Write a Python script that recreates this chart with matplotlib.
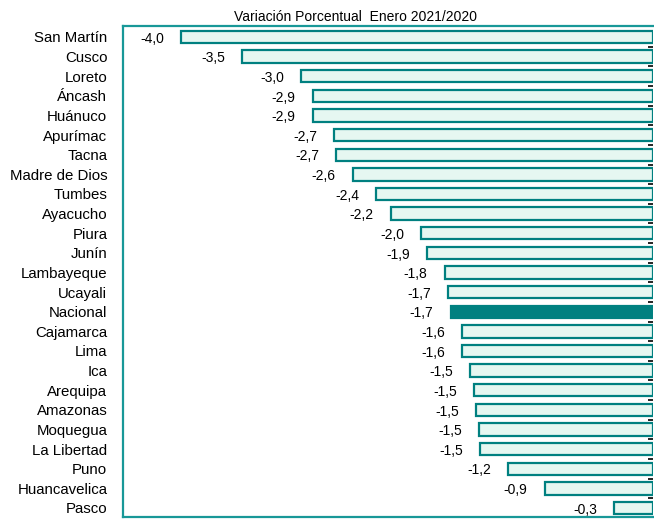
import matplotlib
matplotlib.use("Agg")
import matplotlib.pyplot as plt
import numpy as np

plt.rcParams['font.family'] = ['Liberation Sans', 'DejaVu Sans']

regions = ["San Martín", "Cusco", "Loreto", "Áncash", "Huánuco", "Apurímac", "Tacna",
           "Madre de Dios", "Tumbes", "Ayacucho", "Piura", "Junín", "Lambayeque", "Ucayali",
           "Nacional", "Cajamarca", "Lima", "Ica", "Arequipa", "Amazonas", "Moquegua",
           "La Libertad", "Puno", "Huancavelica", "Pasco"]
values = [-4.01, -3.49, -2.99, -2.89, -2.89, -2.71, -2.69, -2.55, -2.35, -2.23, -1.97, -1.92,
          -1.77, -1.74, -1.72, -1.62, -1.62, -1.555, -1.52, -1.50, -1.48, -1.47, -1.23, -0.92, -0.33]
labels = ["-4,0", "-3,5", "-3,0", "-2,9", "-2,9", "-2,7", "-2,7", "-2,6", "-2,4", "-2,2", "-2,0",
          "-1,9", "-1,8", "-1,7", "-1,7", "-1,6", "-1,6", "-1,5", "-1,5", "-1,5", "-1,5", "-1,5",
          "-1,2", "-0,9", "-0,3"]
highlight = "Nacional"
title = "Variación Porcentual  Enero 2021/2020"

W, H = 654, 519
fig = plt.figure(figsize=(W / 100, H / 100), dpi=100)
ax = fig.add_axes([123.3 / W, 1 - 517 / H, (653 - 123.3) / W, (517 - 26) / H])

teal = "#008080"
light = "#e6f7f1"
y = np.arange(len(regions))
faces = [teal if r == highlight else light for r in regions]
ax.barh(y, values, height=0.63, color=faces, edgecolor=teal, linewidth=1.6, zorder=2)

for yi, v, lab in zip(y, values, labels):
    ax.annotate(lab, (v, yi), xytext=(-12.3, -1.2), textcoords="offset points",
                ha="right", va="center", fontsize=10)

ax.set_xlim(-4.5, 0)
ax.set_ylim(len(regions) - 1 + 0.46, -0.56)
ax.set_xticks([])
ax.set_yticks(y)
ax.set_yticklabels(regions, fontsize=10.8)
ax.set_yticks(np.arange(len(regions) - 1) + 0.5, minor=True)
ax.tick_params(axis="y", which="major", left=False, right=False, length=0, pad=11.5)
ax.tick_params(axis="y", which="minor", left=False, right=True, direction="in",
               length=3.8, width=1.2, color="black")

spine_c = "#189898"
for s in ["left", "top", "bottom"]:
    ax.spines[s].set_color(spine_c)
    ax.spines[s].set_linewidth(1.6)
ax.spines["right"].set_visible(False)

fig.text(355 / W, 1 - 17 / H, title, ha="center", va="center", fontsize=10)

fig.savefig("out.png", dpi=100)
